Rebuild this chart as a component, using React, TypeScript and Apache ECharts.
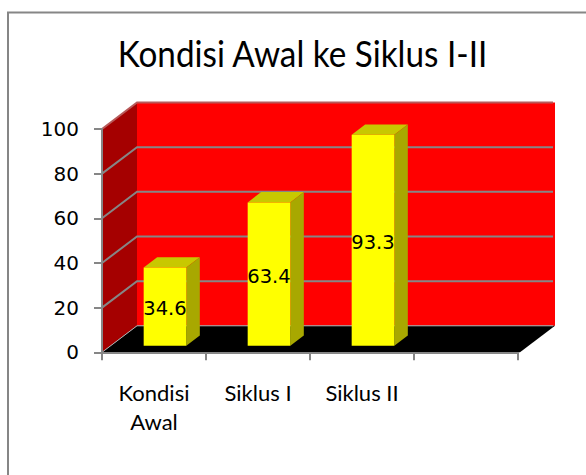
import React, { useEffect, useRef } from "react";
import * as echarts from "echarts";

const titleText = "Kondisi Awal ke Siklus I-II";
const categories = ["Kondisi\nAwal", "Siklus I", "Siklus II", ""];
const values = [34.6, 63.4, 93.3];
const yTicks = [0, 20, 40, 60, 80, 100];

const GREY = "#868686";
const DEPTH_X = 35;
const DEPTH_Y = 26.5;
const BAR_DX = 13.5;
const BAR_DY = 10.3;
const labelFont = "'DejaVu Sans', sans-serif";

export default function App() {
  const ref = useRef<HTMLDivElement>(null);
  useEffect(() => {
    document.body.style.margin = "0";
    const chart = echarts.init(ref.current!, undefined, { renderer: "svg" });
    chart.setOption({
      animation: false,
      backgroundColor: "#ffffff",
      graphic: [
        {
          type: "polyline",
          z: 0,
          shape: { points: [[8, 480], [8, 12.5], [590, 12.5]] },
          style: { stroke: GREY, lineWidth: 2, fill: "none" },
        },
        {
          type: "text",
          x: 302.5,
          y: 53,
          scaleX: 0.925,
          z: 6,
          style: {
            text: titleText,
            fontFamily: "Lato",
            fontSize: 36,
            fill: "#000000",
            textAlign: "center",
            textVerticalAlign: "middle",
          },
        },
      ],
      grid: [
        { left: 102, top: 129, width: 416, height: 223.3 },
        { left: 113, top: 119.7, width: 416, height: 226 },
      ],
      xAxis: [
        {
          type: "category",
          gridIndex: 0,
          data: categories,
          z: 3,
          axisLine: { show: true, lineStyle: { color: GREY, width: 2 } },
          axisTick: { show: true, length: 8, alignWithLabel: false, lineStyle: { color: GREY, width: 2 } },
          axisLabel: { interval: 0, margin: 26, fontFamily: "Lato", fontSize: 22, lineHeight: 29, color: "#000000" },
        },
        { type: "category", gridIndex: 1, data: categories, show: false },
      ],
      yAxis: [
        {
          type: "value",
          gridIndex: 0,
          min: 0,
          max: 100,
          interval: 20,
          z: 3,
          splitLine: { show: false },
          axisLine: { show: true, lineStyle: { color: GREY, width: 2 } },
          axisTick: { show: true, length: 8, lineStyle: { color: GREY, width: 2 } },
          axisLabel: { margin: 23, fontFamily: labelFont, fontSize: 20, color: "#000000" },
        },
        { type: "value", gridIndex: 1, min: 0, max: 100, show: false },
      ],
      series: [
        {
          type: "custom",
          xAxisIndex: 0,
          yAxisIndex: 0,
          z: 1,
          silent: true,
          data: yTicks.map((v) => [0, v]),
          renderItem: (params: any, api: any) => {
            const cs = params.coordSys;
            const v = api.value(1);
            const y = api.coord([0, v])[1];
            const L = cs.x;
            const R = cs.x + cs.width;
            const T = cs.y;
            const B = cs.y + cs.height;
            const children: any[] = [];
            if (params.dataIndex === 0) {
              children.push(
                {
                  type: "polygon",
                  shape: { points: [[L, T], [L + DEPTH_X, T - DEPTH_Y], [L + DEPTH_X, B - DEPTH_Y], [L, B]] },
                  style: { fill: "#a50000" },
                },
                {
                  type: "rect",
                  shape: { x: L + DEPTH_X, y: T - DEPTH_Y, width: cs.width + 2, height: cs.height },
                  style: { fill: "#ff0000" },
                },
                {
                  type: "polygon",
                  shape: { points: [[L, B], [L + DEPTH_X, B - DEPTH_Y], [R + DEPTH_X + 2, B - DEPTH_Y], [R + 2, B]] },
                  style: { fill: "#000000" },
                },
              );
            }
            const stroke = v === 0 ? "#b0b0b0" : v === 100 ? "#b85a5a" : GREY;
            children.push({
              type: "polyline",
              shape: { points: [[L, y], [L + DEPTH_X, y - DEPTH_Y], [R + DEPTH_X, y - DEPTH_Y]] },
              style: { stroke, lineWidth: v === 0 ? 1 : 2, fill: "none" },
            });
            return { type: "group", children };
          },
        },
        {
          type: "custom",
          xAxisIndex: 1,
          yAxisIndex: 1,
          z: 5,
          data: values.map((v, i) => [i, v]),
          renderItem: (_params: any, api: any) => {
            const i = api.value(0);
            const v = api.value(1);
            const [cx, top] = api.coord([i, v]);
            const base = api.coord([i, 0])[1];
            const w = api.size([1, 0])[0] * 0.41;
            const l = cx - w / 2;
            const r = cx + w / 2;
            return {
              type: "group",
              children: [
                {
                  type: "polygon",
                  shape: { points: [[l, top], [l + BAR_DX, top - BAR_DY], [r + BAR_DX, top - BAR_DY], [r, top]] },
                  style: { fill: "#c8c800" },
                },
                {
                  type: "polygon",
                  shape: { points: [[r, top], [r + BAR_DX, top - BAR_DY], [r + BAR_DX, base - BAR_DY], [r, base]] },
                  style: { fill: "#a8a800" },
                },
                {
                  type: "rect",
                  shape: { x: l, y: top, width: w, height: base - top },
                  style: { fill: "#ffff00" },
                },
                {
                  type: "text",
                  x: cx,
                  y: (top + base) / 2 + 2,
                  style: {
                    text: String(v),
                    fill: "#000000",
                    fontFamily: labelFont,
                    fontSize: 19.5,
                    textAlign: "center",
                    textVerticalAlign: "middle",
                  },
                },
              ],
            };
          },
        },
      ],
    });
    return () => chart.dispose();
  }, []);
  return <div ref={ref} style={{ width: 586, height: 475 }} />;
}
